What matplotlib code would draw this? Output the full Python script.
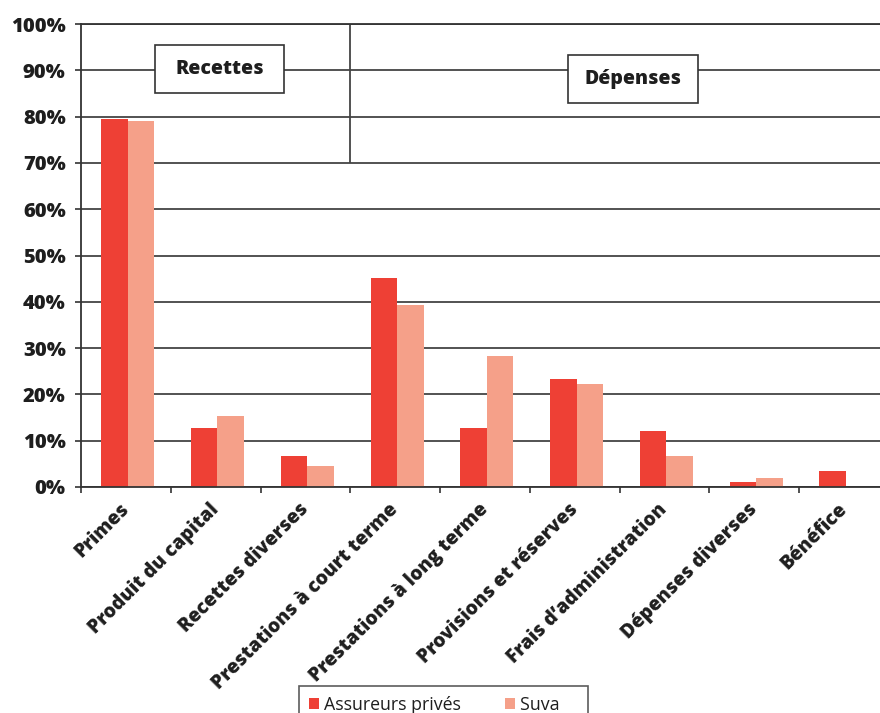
import numpy as np
import matplotlib
matplotlib.use("Agg")
import matplotlib.pyplot as plt
from matplotlib.patches import Rectangle
from matplotlib.ticker import FixedLocator

plt.rcParams['font.family'] = ['Open Sans', 'DejaVu Sans']

# Données (en %)
categories = ["Primes", "Produit du capital", "Recettes diverses",
              "Prestations à court terme", "Prestations à long terme",
              "Provisions et réserves", "Frais d\u2019administration",
              "Dépenses diverses", "Bénéfice"]
prives = [79.4, 12.7, 6.7, 45.1, 12.7, 23.3, 12.1, 1.1, 3.5]
suva = [79.0, 15.3, 4.5, 39.3, 28.3, 22.2, 6.7, 1.9, 0.0]
series_names = ["Assureurs privés", "Suva"]
yticks = list(range(0, 101, 10))

c_prives = "#ee4035"
c_suva = "#f5a089"
dark = "#333333"
txt = "#1e1e1e"

W, H = 880, 713
fig = plt.figure(figsize=(W / 100, H / 100), dpi=100)
# l'axe dépasse à droite (image coupée comme l'original)
ax = fig.add_axes([81 / W, 1 - 487 / H, 808 / W, 463 / H])

x = np.arange(len(categories))
bw = 0.295
ax.bar(x - bw / 2 + 0.02, prives, bw, color=c_prives, zorder=2, label=series_names[0])
ax.bar(x + bw / 2 + 0.02, suva, bw, color=c_suva, zorder=2, label=series_names[1] + "    ")

ax.set_xlim(-0.5, len(categories) - 0.5)
ax.set_ylim(0, 100)

# grille horizontale
ax.set_axisbelow(True)
ax.yaxis.grid(True, color="#444444", lw=1.3)
ax.set_yticks(yticks)
ax.set_yticklabels([f"{v}%" for v in yticks], fontsize=14.5, fontweight="heavy", color=txt)
ax.tick_params(axis="y", length=4, width=1.2, color=dark, pad=7)

# ticks x aux limites de catégories, étiquettes au centre
ax.xaxis.set_major_locator(FixedLocator(np.arange(-0.5, len(categories), 1.0)))
ax.xaxis.set_minor_locator(FixedLocator(x))
ax.set_xticklabels([], minor=False)
ax.set_xticklabels(categories, minor=True, rotation=45, ha="right", va="center",
                   rotation_mode="anchor", fontsize=13.8, fontweight="heavy", color=txt)
ax.tick_params(axis="x", which="major", length=4, width=1.2, color=dark)
ax.tick_params(axis="x", which="minor", length=0, pad=14)

for s in ["left", "bottom", "top"]:
    ax.spines[s].set_color(dark)
    ax.spines[s].set_linewidth(1.3)
ax.spines["right"].set_visible(False)

# séparation recettes / dépenses
ax.vlines(2.5, 70, 100, color="#444444", lw=1.3, zorder=1)

# cadres Recettes / Dépenses
ax.add_patch(Rectangle((0.32, 85.1), 1.44, 10.4, facecolor="white",
                       edgecolor=dark, lw=1.2, zorder=3))
ax.text(1.04, 90.3, "Recettes", ha="center", va="center", fontsize=14,
        fontweight="heavy", color=txt, zorder=4)
ax.add_patch(Rectangle((4.92, 82.9), 1.45, 10.4, facecolor="white",
                       edgecolor=dark, lw=1.2, zorder=3))
ax.text(5.645, 88.1, "Dépenses", ha="center", va="center", fontsize=14,
        fontweight="heavy", color=txt, zorder=4)

leg = fig.legend(loc="upper left", bbox_to_anchor=(299 / W, 1 - 686 / H), ncol=2,
                 fontsize=12.8, frameon=True, fancybox=False, edgecolor=dark,
                 handlelength=0.55, handleheight=0.55, handletextpad=0.3,
                 columnspacing=2.5, borderpad=0.55, borderaxespad=0)
leg.get_frame().set_linewidth(1.2)
for t in leg.get_texts():
    t.set_color(txt)

fig.savefig("out.png", dpi=100)
